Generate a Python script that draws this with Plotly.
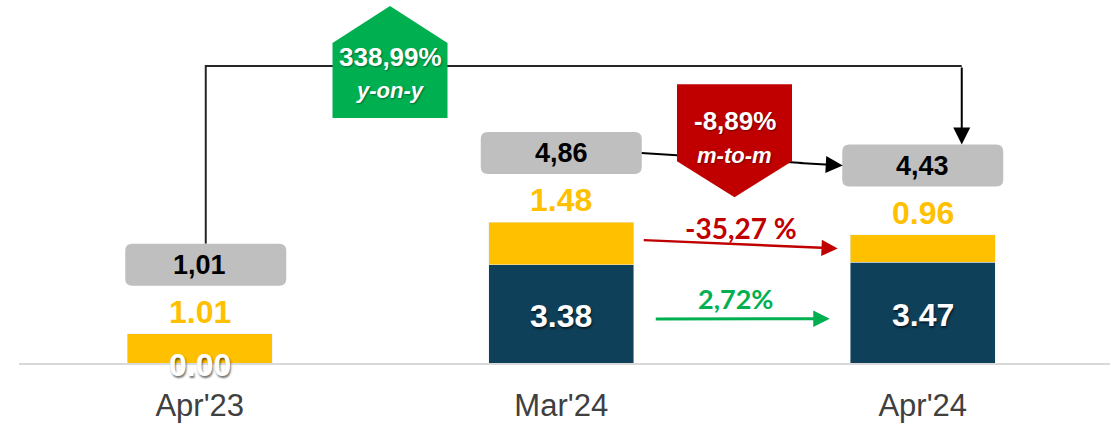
import plotly.graph_objects as go

# data
categories = ["Apr'23", "Mar'24", "Apr'24"]
base_values = [0.00, 3.38, 3.47]      # dark blue segment
top_values = [1.01, 1.48, 0.96]       # yellow segment
total_labels = ["1,01", "4,86", "4,43"]
yoy_label = ["338,99%", "y-on-y"]
mom_label = ["-8,89%", "m-to-m"]
top_change = "-35,27 %"
base_change = "2,72%"

NAVY = "#0f405a"
YELLOW = "#ffc000"
GREY_BOX = "#bfbfbf"
GREEN = "#00b050"
RED = "#c00000"
NARROW = "Liberation Sans Narrow, Arial Narrow, Liberation Sans, Arial, sans-serif"
WIDE = "Lato, Open Sans, sans-serif"

# geometry of the plot area, used to turn pixel offsets into data units
W, H = 1111, 429
M = dict(l=19, r=1, t=5, b=66)
PX_X = 361.5
PX_Y = 29.0
X_RANGE = [-0.5, -0.5 + (W - M["l"] - M["r"]) / PX_X]
Y_RANGE = [0, (H - M["t"] - M["b"]) / PX_Y]


def dx(p):
    return p / PX_X


def dy(p):
    return p / PX_Y


def rounded_box(xc, yc, w, h, r):
    x0, x1 = xc - dx(w / 2), xc + dx(w / 2)
    y0, y1 = yc - dy(h / 2), yc + dy(h / 2)
    rx, ry = dx(r), dy(r)
    return (f"M {x0+rx},{y0} L {x1-rx},{y0} Q {x1},{y0} {x1},{y0+ry} "
            f"L {x1},{y1-ry} Q {x1},{y1} {x1-rx},{y1} L {x0+rx},{y1} "
            f"Q {x0},{y1} {x0},{y1-ry} L {x0},{y0+ry} Q {x0},{y0} {x0+rx},{y0} Z")


totals = [b + t for b, t in zip(base_values, top_values)]
xs = list(range(len(categories)))

fig = go.Figure()
fig.add_trace(go.Bar(x=xs, y=base_values, marker_color=NAVY, width=0.4,
                     hoverinfo="skip"))
fig.add_trace(go.Bar(x=xs, y=top_values, marker_color=YELLOW, width=0.4,
                     hoverinfo="skip"))

shapes = []
annotations = []
BOX_OFF = 69  # px above total
box_y = [t + dy(BOX_OFF) for t in totals]

# y-on-y connector (drawn first so the badge covers it)
yoy_y = max(totals) + dy(156)
x_end = 2 + dx(39)
shapes.append(dict(type="path", layer="above",
                   path=f"M {dx(6)},{box_y[0] + dy(21)} L {dx(6)},{yoy_y} L {x_end},{yoy_y}",
                   line=dict(color="#262626", width=2)))
annotations.append(dict(x=x_end, y=box_y[2] + dy(21), ax=x_end, ay=yoy_y,
                        xref="x", yref="y", axref="x", ayref="y", text="",
                        showarrow=True, arrowhead=2, arrowsize=1.7,
                        arrowwidth=2, arrowcolor="#000000"))

# m-to-m connector
x_a, x_b = 1 + dx(80), 2 - dx(80)
mid_y = (box_y[1] + box_y[2]) / 2
shapes.append(dict(type="line", layer="above", x0=x_a, y0=box_y[1],
                   x1=2 - dx(120), y1=box_y[1] + (box_y[2] - box_y[1]) * 0.8,
                   line=dict(color="#000000", width=2)))
annotations.append(dict(x=x_b, y=box_y[2], ax=2 - dx(125),
                        ay=box_y[1] + (box_y[2] - box_y[1]) * 0.8,
                        xref="x", yref="y", axref="x", ayref="y", text="",
                        showarrow=True, arrowhead=2, arrowsize=1.7,
                        arrowwidth=2, arrowcolor="#000000"))

# total boxes
for i, t in enumerate(totals):
    shapes.append(dict(type="path", layer="above",
                       path=rounded_box(i + (dx(6) if i == 0 else 0), box_y[i], 161, 42, 7),
                       fillcolor=GREY_BOX, line=dict(width=0)))
    annotations.append(dict(x=i, y=box_y[i], text=f"<b>{total_labels[i]}</b>",
                            showarrow=False, yanchor="middle",
                            font=dict(family=NARROW, size=27, color="#000000")))
    # yellow segment value
    annotations.append(dict(x=i, y=t, yshift=22, text=f"<b>{top_values[i]:.2f}</b>",
                            showarrow=False, yanchor="middle",
                            font=dict(family=NARROW, size=32, color=YELLOW)))
    # dark segment value
    annotations.append(dict(x=i, y=base_values[i] / 2, yshift=-2,
                            text=f"<b>{base_values[i]:.2f}</b>",
                            showarrow=False, yanchor="middle",
                            font=dict(family=NARROW, size=32, color="#ffffff",
                                      shadow="1px 2px 2px rgba(0,0,0,0.55)")))

# green y-on-y badge (house pentagon)
gx = 0.5 + dx(9.5)
hw = dx(57.5)
shapes.append(dict(type="path", layer="above", fillcolor=GREEN, line=dict(width=0),
                   path=(f"M {gx-hw},{yoy_y - dy(52)} L {gx+hw},{yoy_y - dy(52)} "
                         f"L {gx+hw},{yoy_y + dy(23)} L {gx},{yoy_y + dy(60)} "
                         f"L {gx-hw},{yoy_y + dy(23)} Z")))
annotations.append(dict(x=gx, y=yoy_y + dy(9), text=f"<b>{yoy_label[0]}</b>",
                        showarrow=False, yanchor="middle",
                        font=dict(family=NARROW, size=26, color="#ffffff",
                                  shadow="1px 1px 2px rgba(0,0,0,0.4)")))
annotations.append(dict(x=gx, y=yoy_y - dy(24), text=f"<b><i>{yoy_label[1]}</i></b>",
                        showarrow=False, yanchor="middle",
                        font=dict(family=NARROW, size=22, color="#ffffff",
                                  shadow="1px 1px 2px rgba(0,0,0,0.4)")))

# red m-to-m badge (down pentagon)
rx = 1.5 - dx(7.5)
shapes.append(dict(type="path", layer="above", fillcolor=RED, line=dict(width=0),
                   path=(f"M {rx-hw},{mid_y + dy(75)} L {rx+hw},{mid_y + dy(75)} "
                         f"L {rx+hw},{mid_y - dy(2)} L {rx},{mid_y - dy(38)} "
                         f"L {rx-hw},{mid_y - dy(2)} Z")))
annotations.append(dict(x=rx, y=mid_y + dy(38), text=f"<b>{mom_label[0]}</b>",
                        showarrow=False, yanchor="middle",
                        font=dict(family=NARROW, size=26, color="#ffffff",
                                  shadow="1px 1px 2px rgba(0,0,0,0.4)")))
annotations.append(dict(x=rx, y=mid_y + dy(4), text=f"<b><i>{mom_label[1]}</i></b>",
                        showarrow=False, yanchor="middle",
                        font=dict(family=NARROW, size=22, color="#ffffff",
                                  shadow="1px 1px 2px rgba(0,0,0,0.4)")))

# change arrows between Mar'24 and Apr'24
ty0, ty1 = totals[1] - dy(18), totals[2] - dy(14)
annotations.append(dict(x=2 - dx(85), y=ty1, ax=1 + dx(81), ay=ty0,
                        xref="x", yref="y", axref="x", ayref="y", text="",
                        showarrow=True, arrowhead=2, arrowsize=1.3,
                        arrowwidth=2.5, arrowcolor=RED))
annotations.append(dict(x=1.5 - dx(1), y=(ty0 + ty1) / 2 + dy(16),
                        text=f"<b>{top_change}</b>", showarrow=False,
                        yanchor="middle",
                        font=dict(family=WIDE, size=28, color=RED)))

by0, by1 = base_values[1] / 2 - dy(5), base_values[2] / 2 - dy(6)
annotations.append(dict(x=2 - dx(93), y=by1, ax=1 + dx(93), ay=by0,
                        xref="x", yref="y", axref="x", ayref="y", text="",
                        showarrow=True, arrowhead=2, arrowsize=1.1,
                        arrowwidth=3, arrowcolor=GREEN))
annotations.append(dict(x=1.5 - dx(7), y=(by0 + by1) / 2 + dy(20),
                        text=f"<b>{base_change}</b>", showarrow=False,
                        yanchor="middle",
                        font=dict(family=WIDE, size=27, color=GREEN)))

fig.update_layout(
    barmode="stack",
    width=W, height=H,
    margin=M,
    showlegend=False,
    plot_bgcolor="#ffffff",
    paper_bgcolor="#ffffff",
    shapes=shapes,
    annotations=annotations,
    xaxis=dict(range=X_RANGE, tickvals=xs, ticktext=categories,
               showgrid=False, zeroline=False, showline=True,
               linecolor="#d9d9d9", linewidth=2, ticks="",
               tickfont=dict(family=NARROW, size=31, color="#404040"),
               ticklabelstandoff=14),
    yaxis=dict(range=Y_RANGE, visible=False, showgrid=False, zeroline=False),
)

# page body has a default 8px margin; remove it so the figure sits at 0,0
fig.write_html("out.html", config={"displayModeBar": False},
               post_script="document.body.style.margin='0';")
